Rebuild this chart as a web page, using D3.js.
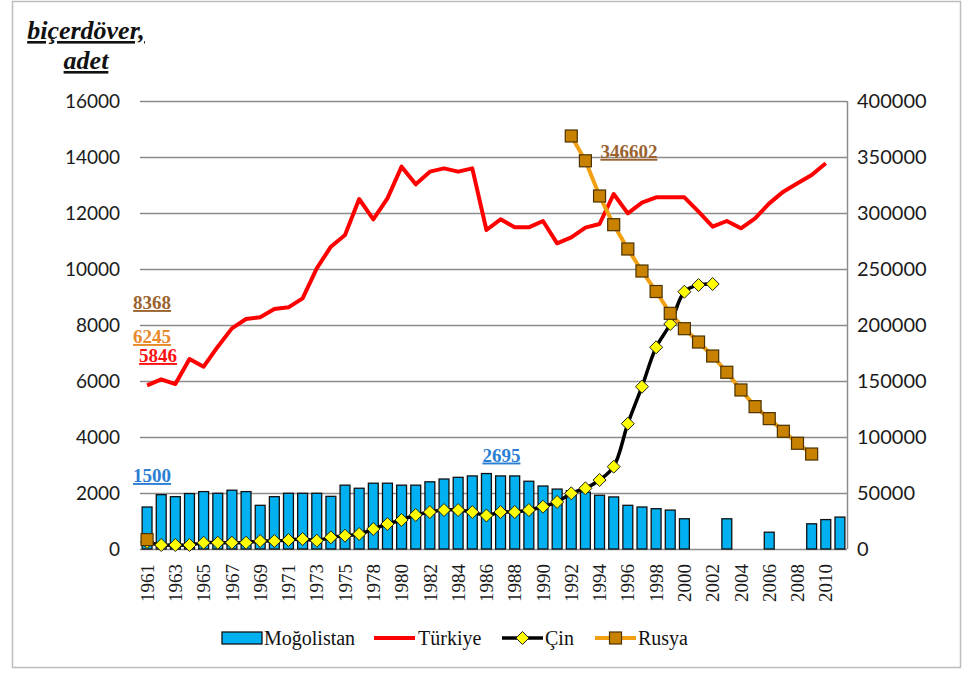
<!DOCTYPE html>
<html>
<head>
<meta charset="utf-8">
<script src="https://cdn.jsdelivr.net/npm/d3@7/dist/d3.min.js"></script>
<style>
  html, body { margin: 0; padding: 0; background: #fff; }
  svg { display: block; }
</style>
</head>
<body>
<svg id="chart" width="973" height="675"></svg>
<script>
// Years on the category axis (1977 is not in the series)
const years = [
  "1961","1962","1963","1964","1965","1966","1967","1968","1969","1970",
  "1971","1972","1973","1974","1975","1976","1978","1979","1980","1981",
  "1982","1983","1984","1985","1986","1987","1988","1989","1990","1991",
  "1992","1993","1994","1995","1996","1997","1998","1999","2000","2001",
  "2002","2003","2004","2005","2006","2007","2008","2009","2010","2011"
];

// Moğolistan (left axis, bars)
const mogolistan = [
  1500,1940,1870,1980,2050,1990,2100,2050,1560,1870,
  1990,1990,1990,1880,2280,2170,2350,2350,2280,2280,
  2400,2500,2560,2610,2695,2610,2610,2420,2250,2140,
  2080,2030,1920,1860,1560,1500,1440,1390,1080,null,
  null,1080,null,null,600,null,null,900,1050,1140
];

// Türkiye (left axis, line)
const turkiye = [
  5846,6060,5890,6785,6510,7226,7880,8214,8274,8571,
  8631,8952,10024,10797,11214,12500,11775,12524,13655,13024,
  13476,13595,13476,13595,11393,11774,11488,11488,11714,10917,
  11131,11476,11607,12679,11988,12369,12560,12560,12560,12048,
  11512,11714,11452,11810,12345,12762,13060,13357,13774,null
];

// Çin (right axis, smoothed line with diamonds)
const cin = [
  6245,3570,3570,3570,5630,5630,5630,5630,7140,7140,
  8040,8930,7440,10400,11900,13400,17860,22300,25900,30400,
  33000,34800,34800,33000,29900,33000,33000,34800,37800,42000,
  49700,54200,61600,73500,111900,144900,180100,200900,229700,235700,
  236600,null,null,null,null,null,null,null,null,null
];

// Rusya (right axis, line with squares)
const rusya = [
  8368,null,null,null,null,null,null,null,null,null,
  null,null,null,null,null,null,null,null,null,null,
  null,null,null,null,null,null,null,null,null,null,
  368750,346602,315170,289560,267860,248200,229900,210400,196700,184800,
  172300,157800,142000,127100,116400,105100,94400,84800,null,null
];

const leftTicks = [0,2000,4000,6000,8000,10000,12000,14000,16000];
const rightTicks = [0,50000,100000,150000,200000,250000,300000,350000,400000];

const titleLines = ["biçerdöver,", "adet"];
const legendNames = ["Moğolistan", "Türkiye", "Çin", "Rusya"];

const svg = d3.select("#chart");
const plot = { left: 140, right: 847, top: 101, bottom: 549 };

// outer frame
svg.append("rect")
  .attr("x", 12.5).attr("y", 1.5).attr("width", 948).attr("height", 666)
  .attr("fill", "#fff").attr("stroke", "#bdbdbd").attr("stroke-width", 1.5);

const x = d3.scaleBand().domain(years).range([plot.left, plot.right]).paddingInner(0.3).paddingOuter(0.15);
const xc = i => x(years[i]) + x.bandwidth() / 2;
const yL = d3.scaleLinear().domain([0, 16000]).range([plot.bottom, plot.top]);
const yR = d3.scaleLinear().domain([0, 400000]).range([plot.bottom, plot.top]);

// gridlines
svg.append("g").selectAll("line").data(leftTicks).join("line")
  .attr("x1", plot.left).attr("x2", plot.right)
  .attr("y1", d => Math.round(yL(d)) + 0.5).attr("y2", d => Math.round(yL(d)) + 0.5)
  .attr("stroke", "#8c8c8c").attr("stroke-width", 1.5);

// right axis line
svg.append("line")
  .attr("x1", plot.right + 0.5).attr("x2", plot.right + 0.5)
  .attr("y1", plot.top).attr("y2", plot.bottom)
  .attr("stroke", "#8c8c8c").attr("stroke-width", 1.5);

// left axis labels
const axL = d3.axisLeft(yL).tickValues(leftTicks).tickSize(0).tickPadding(20).tickFormat(d3.format("d"));
const gL = svg.append("g").attr("transform", `translate(${plot.left},0)`).call(axL);
gL.select(".domain").remove();
gL.selectAll("text").attr("font-family", "Lato, 'Noto Sans', sans-serif").attr("font-size", 19).attr("fill", "#1a1a1a");

// right axis labels
const axR = d3.axisRight(yR).tickValues(rightTicks).tickSize(0).tickPadding(10).tickFormat(d3.format("d"));
const gR = svg.append("g").attr("transform", `translate(${plot.right},0)`).call(axR);
gR.select(".domain").remove();
gR.selectAll("text").attr("font-family", "Lato, 'Noto Sans', sans-serif").attr("font-size", 20).attr("fill", "#1a1a1a");

// bottom axis: every other year, rotated
const axB = d3.axisBottom(x).tickValues(years.filter((d, i) => i % 2 === 0)).tickSize(0).tickPadding(0);
const gB = svg.append("g").attr("transform", `translate(0,${plot.bottom})`).call(axB);
gB.select(".domain").remove();
gB.selectAll("text")
  .attr("font-family", "'Liberation Serif', 'Times New Roman', serif").attr("font-size", 19).attr("fill", "#1a1a1a")
  .attr("transform", "rotate(-90)").attr("text-anchor", "end")
  .attr("x", -15).attr("y", 0).attr("dy", "0.35em");

// Moğolistan bars
svg.append("g").selectAll("rect")
  .data(mogolistan.map((v, i) => ({ v, i })).filter(d => d.v != null))
  .join("rect")
  .attr("x", d => x(years[d.i]))
  .attr("y", d => yL(d.v))
  .attr("width", x.bandwidth())
  .attr("height", d => yL(0) - yL(d.v))
  .attr("fill", "#00b0f0").attr("stroke", "#111").attr("stroke-width", 1.3);

// Türkiye line
const lineL = d3.line().defined(d => d.v != null).x(d => xc(d.i)).y(d => yL(d.v));
svg.append("path")
  .datum(turkiye.map((v, i) => ({ v, i })))
  .attr("d", lineL)
  .attr("fill", "none").attr("stroke", "#ff0000").attr("stroke-width", 4).attr("stroke-linejoin", "round");

// Çin line
const lineRs = d3.line().defined(d => d.v != null).x(d => xc(d.i)).y(d => yR(d.v)).curve(d3.curveCatmullRom.alpha(0.5));
svg.append("path")
  .datum(cin.map((v, i) => ({ v, i })))
  .attr("d", lineRs)
  .attr("fill", "none").attr("stroke", "#000").attr("stroke-width", 3.5);

const diamond = s => `M0,${-s}L${s},0L0,${s}L${-s},0Z`;
svg.append("g").selectAll("path")
  .data(cin.map((v, i) => ({ v, i })).filter(d => d.v != null))
  .join("path")
  .attr("transform", d => `translate(${xc(d.i)},${yR(d.v)})`)
  .attr("d", diamond(6.5))
  .attr("fill", "#ffff00").attr("stroke", "#222").attr("stroke-width", 1);

// Rusya line
const lineR = d3.line().defined(d => d.v != null).x(d => xc(d.i)).y(d => yR(d.v));
svg.append("path")
  .datum(rusya.map((v, i) => ({ v, i })))
  .attr("d", lineR)
  .attr("fill", "none").attr("stroke", "#f0a010").attr("stroke-width", 4);

svg.append("g").selectAll("rect")
  .data(rusya.map((v, i) => ({ v, i })).filter(d => d.v != null))
  .join("rect")
  .attr("x", d => xc(d.i) - 6).attr("y", d => yR(d.v) - 6)
  .attr("width", 12).attr("height", 12)
  .attr("fill", "#c98200").attr("stroke", "#4a3300").attr("stroke-width", 1.2);

// data labels
const labelFont = "'Liberation Serif', 'Times New Roman', serif";
const labels = [
  { text: String(mogolistan[0]), px: xc(0) + 5, py: yL(mogolistan[0]) - 25, color: "#2a7fd4", anchor: "middle" },
  { text: String(mogolistan[24]), px: xc(24) + 15, py: yL(mogolistan[24]) - 12, color: "#2a7fd4", anchor: "middle" },
  { text: String(rusya[31]), px: xc(31) + 15, py: yR(rusya[31]) - 3, color: "#9a6330", anchor: "start" },
  { text: String(rusya[0]), px: xc(0) + 5, py: 309, color: "#9a6330", anchor: "middle" },
  { text: String(cin[0]), px: xc(0) + 5, py: 343, color: "#e8892c", anchor: "middle" },
  { text: String(turkiye[0]), px: xc(0) + 11, py: 362, color: "#ff1010", anchor: "middle" }
];
svg.append("g").selectAll("text").data(labels).join("text")
  .attr("x", d => d.px).attr("y", d => d.py)
  .attr("text-anchor", d => d.anchor)
  .attr("font-family", labelFont).attr("font-size", 19).attr("font-weight", "bold")
  .attr("text-decoration", "underline")
  .attr("fill", d => d.color)
  .text(d => d.text);

// axis title
svg.append("g").selectAll("text").data(titleLines).join("text")
  .attr("x", 86).attr("y", (d, i) => 39 + i * 30)
  .attr("text-anchor", "middle")
  .attr("font-family", labelFont).attr("font-size", 26).attr("font-weight", "bold").attr("font-style", "italic")
  .attr("text-decoration", "underline").attr("fill", "#111")
  .text(d => d);

// legend
const legendY = 638;
const lg = svg.append("g").attr("font-family", labelFont).attr("font-size", 20).attr("fill", "#111");
const legendX = [222, 374, 502, 595];
// Moğolistan swatch
lg.append("rect").attr("x", legendX[0]).attr("y", legendY - 6).attr("width", 40).attr("height", 12)
  .attr("fill", "#00b0f0").attr("stroke", "#111").attr("stroke-width", 1.3);
// Türkiye swatch
lg.append("line").attr("x1", legendX[1]).attr("x2", legendX[1] + 41).attr("y1", legendY).attr("y2", legendY)
  .attr("stroke", "#ff0000").attr("stroke-width", 4);
// Çin swatch
lg.append("line").attr("x1", legendX[2]).attr("x2", legendX[2] + 41).attr("y1", legendY).attr("y2", legendY)
  .attr("stroke", "#000").attr("stroke-width", 3.5);
lg.append("path").attr("transform", `translate(${legendX[2] + 20.5},${legendY})`).attr("d", diamond(6.5))
  .attr("fill", "#ffff00").attr("stroke", "#222").attr("stroke-width", 1);
// Rusya swatch
lg.append("line").attr("x1", legendX[3]).attr("x2", legendX[3] + 41).attr("y1", legendY).attr("y2", legendY)
  .attr("stroke", "#f0a010").attr("stroke-width", 4);
lg.append("rect").attr("x", legendX[3] + 14.5).attr("y", legendY - 6).attr("width", 12).attr("height", 12)
  .attr("fill", "#c98200").attr("stroke", "#4a3300").attr("stroke-width", 1.2);
const legendTextX = [264, 418, 545, 638];
legendNames.forEach((n, i) => {
  lg.append("text").attr("x", legendTextX[i]).attr("y", legendY + 7).text(n);
});
</script>
</body>
</html>
